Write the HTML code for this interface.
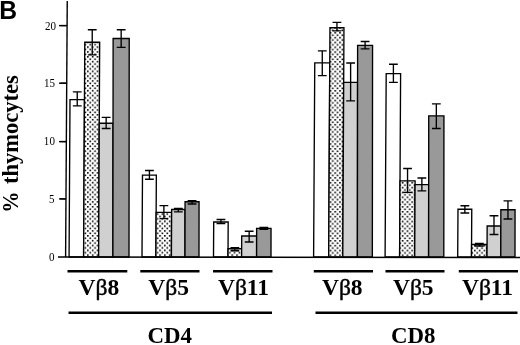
<!DOCTYPE html>
<html><head><meta charset="utf-8"><title>B</title>
<style>
html,body{margin:0;padding:0;background:#fff;}
body{width:520px;height:345px;overflow:hidden;}
svg{display:block;}
.lab{font-family:"Liberation Serif",serif;font-weight:bold;font-size:23.5px;fill:#000;}
.tick{font-family:"Liberation Serif",serif;font-size:11.5px;fill:#000;}
.b{font-weight:normal;stroke:#000;stroke-width:0.45px;}
</style></head><body>
<svg width="520" height="345" viewBox="0 0 520 345">
<defs>
<pattern id="dotsL" x="0.4" y="2.78" width="4.813" height="4.838" patternUnits="userSpaceOnUse">
<rect width="4.813" height="4.838" fill="#fff"/>
<rect x="0" y="0" width="1.6" height="1.6" fill="#000"/>
<rect x="2.4065" y="2.419" width="1.6" height="1.6" fill="#000"/>
</pattern>
<pattern id="dotsR" x="2.3" y="2.94" width="4.813" height="4.838" patternUnits="userSpaceOnUse">
<rect width="4.813" height="4.838" fill="#fff"/>
<rect x="0" y="0" width="1.6" height="1.6" fill="#000"/>
<rect x="2.4065" y="2.419" width="1.6" height="1.6" fill="#000"/>
</pattern>
</defs>
<rect width="520" height="345" fill="#fff"/>

<polygon points="69.07,257.0 70.01,99.60 84.47,99.60 83.60,257.0" fill="#ffffff" stroke="#000" stroke-width="1.35" stroke-linejoin="miter"/>
<polygon points="83.60,257.0 84.78,42.20 99.67,42.20 98.60,257.0" fill="url(#dotsL)" stroke="#000" stroke-width="1.35" stroke-linejoin="miter"/>
<polygon points="98.60,257.0 99.27,123.20 113.03,123.20 112.90,257.0" fill="#d0d0d0" stroke="#000" stroke-width="1.35" stroke-linejoin="miter"/>
<polygon points="112.90,257.0 113.12,38.50 129.22,38.50 129.00,257.0" fill="#999999" stroke="#000" stroke-width="1.35" stroke-linejoin="miter"/>
<path d="M72.84 91.80H81.64M72.84 105.80H81.64M77.24 91.80V105.80" stroke="#000" stroke-width="1.35" fill="none"/>
<path d="M87.83 29.70H96.63M87.83 54.80H96.63M92.23 29.70V54.80" stroke="#000" stroke-width="1.35" fill="none"/>
<path d="M101.75 117.40H110.55M101.75 128.50H110.55M106.15 117.40V128.50" stroke="#000" stroke-width="1.35" fill="none"/>
<path d="M116.77 29.70H125.57M116.77 47.30H125.57M121.17 29.70V47.30" stroke="#000" stroke-width="1.35" fill="none"/>
<polygon points="142.00,257.0 142.49,175.10 156.35,175.10 155.90,257.0" fill="#ffffff" stroke="#000" stroke-width="1.35" stroke-linejoin="miter"/>
<polygon points="155.90,257.0 156.15,212.40 171.62,212.40 171.40,257.0" fill="url(#dotsL)" stroke="#000" stroke-width="1.35" stroke-linejoin="miter"/>
<polygon points="171.40,257.0 171.64,209.50 185.05,209.50 185.00,257.0" fill="#d0d0d0" stroke="#000" stroke-width="1.35" stroke-linejoin="miter"/>
<polygon points="185.00,257.0 185.06,201.70 199.06,201.70 199.00,257.0" fill="#999999" stroke="#000" stroke-width="1.35" stroke-linejoin="miter"/>
<path d="M145.02 170.50H153.82M145.02 179.20H153.82M149.42 170.50V179.20" stroke="#000" stroke-width="1.35" fill="none"/>
<path d="M159.48 205.60H168.28M159.48 218.60H168.28M163.88 205.60V218.60" stroke="#000" stroke-width="1.35" fill="none"/>
<path d="M173.94 208.30H182.74M173.94 211.80H182.74M178.34 208.30V211.80" stroke="#000" stroke-width="1.35" fill="none"/>
<path d="M187.66 200.60H196.46M187.66 204.00H196.46M192.06 200.60V204.00" stroke="#000" stroke-width="1.35" fill="none"/>
<polygon points="213.50,257.0 213.71,222.00 228.19,222.00 228.00,257.0" fill="#ffffff" stroke="#000" stroke-width="1.35" stroke-linejoin="miter"/>
<polygon points="228.00,257.0 228.05,248.70 241.64,248.70 241.60,257.0" fill="url(#dotsL)" stroke="#000" stroke-width="1.35" stroke-linejoin="miter"/>
<polygon points="241.60,257.0 241.70,236.00 256.62,236.00 256.60,257.0" fill="#d0d0d0" stroke="#000" stroke-width="1.35" stroke-linejoin="miter"/>
<polygon points="256.60,257.0 256.63,228.40 271.03,228.40 271.00,257.0" fill="#999999" stroke="#000" stroke-width="1.35" stroke-linejoin="miter"/>
<path d="M216.55 219.50H225.35M216.55 223.50H225.35M220.95 219.50V223.50" stroke="#000" stroke-width="1.35" fill="none"/>
<path d="M230.44 247.60H239.24M230.44 250.70H239.24M234.84 247.60V250.70" stroke="#000" stroke-width="1.35" fill="none"/>
<path d="M244.76 231.20H253.56M244.76 242.00H253.56M249.16 231.20V242.00" stroke="#000" stroke-width="1.35" fill="none"/>
<path d="M259.43 227.30H268.23M259.43 229.30H268.23M263.83 227.30V229.30" stroke="#000" stroke-width="1.35" fill="none"/>
<polygon points="313.60,257.0 314.76,62.90 329.77,62.90 328.70,257.0" fill="#ffffff" stroke="#000" stroke-width="1.35" stroke-linejoin="miter"/>
<polygon points="328.70,257.0 329.96,27.70 343.95,27.70 342.80,257.0" fill="url(#dotsR)" stroke="#000" stroke-width="1.35" stroke-linejoin="miter"/>
<polygon points="342.80,257.0 343.67,82.30 357.57,82.30 357.40,257.0" fill="#d0d0d0" stroke="#000" stroke-width="1.35" stroke-linejoin="miter"/>
<polygon points="357.40,257.0 357.61,45.30 372.56,45.30 372.35,257.0" fill="#999999" stroke="#000" stroke-width="1.35" stroke-linejoin="miter"/>
<path d="M317.87 50.80H326.67M317.87 75.60H326.67M322.27 50.80V75.60" stroke="#000" stroke-width="1.35" fill="none"/>
<path d="M332.55 22.30H341.35M332.55 30.80H341.35M336.95 22.30V30.80" stroke="#000" stroke-width="1.35" fill="none"/>
<path d="M346.22 63.00H355.02M346.22 100.80H355.02M350.62 63.00V100.80" stroke="#000" stroke-width="1.35" fill="none"/>
<path d="M360.69 41.50H369.49M360.69 48.80H369.49M365.09 41.50V48.80" stroke="#000" stroke-width="1.35" fill="none"/>
<polygon points="385.10,257.0 386.20,73.60 400.61,73.60 399.60,257.0" fill="#ffffff" stroke="#000" stroke-width="1.35" stroke-linejoin="miter"/>
<polygon points="399.60,257.0 400.02,180.80 415.08,180.80 414.70,257.0" fill="url(#dotsR)" stroke="#000" stroke-width="1.35" stroke-linejoin="miter"/>
<polygon points="414.70,257.0 415.06,184.60 428.67,184.60 428.60,257.0" fill="#d0d0d0" stroke="#000" stroke-width="1.35" stroke-linejoin="miter"/>
<polygon points="428.60,257.0 428.74,115.80 443.94,115.80 443.80,257.0" fill="#999999" stroke="#000" stroke-width="1.35" stroke-linejoin="miter"/>
<path d="M389.00 64.20H397.80M389.00 82.30H397.80M393.40 64.20V82.30" stroke="#000" stroke-width="1.35" fill="none"/>
<path d="M403.15 168.50H411.95M403.15 192.30H411.95M407.55 168.50V192.30" stroke="#000" stroke-width="1.35" fill="none"/>
<path d="M417.47 178.00H426.27M417.47 190.80H426.27M421.87 178.00V190.80" stroke="#000" stroke-width="1.35" fill="none"/>
<path d="M431.94 103.90H440.74M431.94 128.50H440.74M436.34 103.90V128.50" stroke="#000" stroke-width="1.35" fill="none"/>
<polygon points="457.70,257.0 457.99,209.20 471.76,209.20 471.50,257.0" fill="#ffffff" stroke="#000" stroke-width="1.35" stroke-linejoin="miter"/>
<polygon points="471.50,257.0 471.57,244.50 487.06,244.50 487.00,257.0" fill="url(#dotsR)" stroke="#000" stroke-width="1.35" stroke-linejoin="miter"/>
<polygon points="487.00,257.0 487.15,226.00 500.83,226.00 500.80,257.0" fill="#d0d0d0" stroke="#000" stroke-width="1.35" stroke-linejoin="miter"/>
<polygon points="500.80,257.0 500.85,209.70 515.05,209.70 515.00,257.0" fill="#999999" stroke="#000" stroke-width="1.35" stroke-linejoin="miter"/>
<path d="M460.47 205.70H469.27M460.47 213.00H469.27M464.87 205.70V213.00" stroke="#000" stroke-width="1.35" fill="none"/>
<path d="M474.92 243.30H483.72M474.92 246.00H483.72M479.32 243.30V246.00" stroke="#000" stroke-width="1.35" fill="none"/>
<path d="M489.59 215.70H498.39M489.59 234.50H498.39M493.99 215.70V234.50" stroke="#000" stroke-width="1.35" fill="none"/>
<path d="M503.55 200.80H512.35M503.55 219.00H512.35M507.95 200.80V219.00" stroke="#000" stroke-width="1.35" fill="none"/>
<path d="M67.25 1L65.6 257.0" stroke="#000" stroke-width="1.4" fill="none"/>
<path d="M58 256.9L520 257.5" stroke="#000" stroke-width="1.45" fill="none"/>
<path d="M60.3 25.6H67.08" stroke="#000" stroke-width="1.35" fill="none"/>
<path d="M60.3 83.2H66.71" stroke="#000" stroke-width="1.35" fill="none"/>
<path d="M60.3 141.6H66.34" stroke="#000" stroke-width="1.35" fill="none"/>
<path d="M60.3 198.9H65.97" stroke="#000" stroke-width="1.35" fill="none"/>
<path d="M59 25.6H66" stroke="#000" stroke-width="1.35" fill="none"/>
<path d="M59 83.2H66" stroke="#000" stroke-width="1.35" fill="none"/>
<path d="M59 141.6H66" stroke="#000" stroke-width="1.35" fill="none"/>
<path d="M59 198.9H66" stroke="#000" stroke-width="1.35" fill="none"/>
<text class="tick" transform="translate(56.0 29.9) scale(0.96 1)" text-anchor="end">20</text>
<text class="tick" transform="translate(55.0 86.9) scale(0.96 1)" text-anchor="end">15</text>
<text class="tick" transform="translate(54.9 145.35) scale(0.96 1)" text-anchor="end">10</text>
<text class="tick" transform="translate(54.6 203.3) scale(0.96 1)" text-anchor="end">5</text>
<text class="tick" transform="translate(54.6 260.95) scale(0.96 1)" text-anchor="end">0</text>
<path d="M67.5 271.3H127.3" stroke="#000" stroke-width="2.6" fill="none"/>
<path d="M140.3 271.3H199.5" stroke="#000" stroke-width="2.6" fill="none"/>
<path d="M213 271.3H272.5" stroke="#000" stroke-width="2.6" fill="none"/>
<path d="M313.8 271.3H373" stroke="#000" stroke-width="2.6" fill="none"/>
<path d="M385.5 271.3H444.5" stroke="#000" stroke-width="2.6" fill="none"/>
<path d="M458.8 271.3H518" stroke="#000" stroke-width="2.6" fill="none"/>
<path d="M68.5 312.8H272" stroke="#000" stroke-width="2.6" fill="none"/>
<path d="M315.5 312.8H517.5" stroke="#000" stroke-width="2.6" fill="none"/>
<text class="lab" x="78.60" y="295.4">V<tspan class="b">β</tspan>8</text>
<text class="lab" x="148.20" y="295.4">V<tspan class="b">β</tspan>5</text>
<text class="lab" x="217.90" y="295.4">V<tspan class="b">β</tspan>11</text>
<text class="lab" x="321.90" y="295.4">V<tspan class="b">β</tspan>8</text>
<text class="lab" x="392.90" y="295.4">V<tspan class="b">β</tspan>5</text>
<text class="lab" x="461.90" y="295.4">V<tspan class="b">β</tspan>11</text>
<text class="lab" transform="translate(147.5 343.3) scale(0.974 1)">CD4</text>
<text class="lab" transform="translate(390.9 343.3) scale(0.974 1)">CD8</text>
<text class="lab" style="font-size:22px" transform="translate(18.4 184.0) rotate(-90) scale(1.023 1.06)">thymocytes</text>
<text class="lab" style="font-size:22px" transform="translate(17.8 212.7) rotate(-90) scale(0.97 1.08)">%</text>
<text transform="translate(-0.75 18.85) scale(1 1.055)" style="font-family:'Liberation Sans',sans-serif;font-weight:bold;font-size:24.7px;fill:#000">B</text>
</svg></body></html>
